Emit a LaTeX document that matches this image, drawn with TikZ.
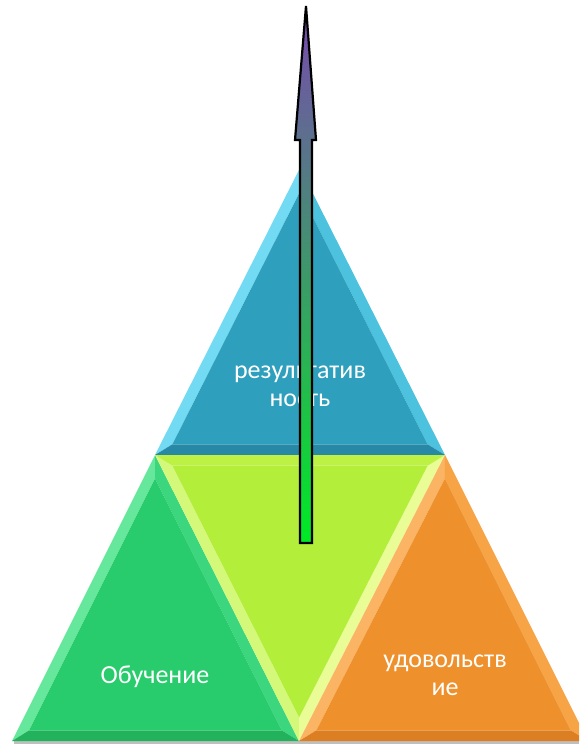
\documentclass[tikz,border=0pt]{standalone}
\usepackage{fontspec}
\setmainfont{Carlito}
\usetikzlibrary{calc}
\definecolor{tealM}{HTML}{2EA0BD}
\definecolor{tealL}{HTML}{72DAF2}
\definecolor{tealR}{HTML}{4CC2DE}
\definecolor{tealB}{HTML}{2889A6}
\definecolor{grnM}{HTML}{28CC6C}
\definecolor{grnL}{HTML}{66E89C}
\definecolor{grnR}{HTML}{3CD67E}
\definecolor{grnB}{HTML}{22B25C}
\definecolor{limM}{HTML}{B3EE3A}
\definecolor{limT}{HTML}{BDF245}
\definecolor{limL}{HTML}{D4F97A}
\definecolor{limR}{HTML}{EAFC95}
\definecolor{orgM}{HTML}{EE902C}
\definecolor{orgL}{HTML}{FAB464}
\definecolor{orgR}{HTML}{F6A446}
\definecolor{orgB}{HTML}{DC7E22}
\definecolor{arrTop}{HTML}{7A48B0}
\definecolor{arrBot}{HTML}{00EA24}
\tikzset{
  lbl/.style={text=white, font=\fontsize{26}{26}\selectfont, inner sep=0pt, anchor=base},
  arrowshape/.style={draw=black, line width=2.2pt, top color=arrTop, bottom color=arrBot, line join=miter},
}
% #1 first vertex, #2 second, #3 third, #4 incenter, colours: #5 main, #6 facet 1-2, #7 facet 1-3, #8 facet 2-3
\newcommand\bevtri[8]{%
  \coordinate (ia) at ($(#4)!0.88!(#1)$);
  \coordinate (ib) at ($(#4)!0.88!(#2)$);
  \coordinate (ic) at ($(#4)!0.88!(#3)$);
  \fill[#6] (#1) -- (#2) -- (ib) -- (ia) -- cycle;
  \fill[#7] (#1) -- (#3) -- (ic) -- (ia) -- cycle;
  \fill[#8] (#2) -- (#3) -- (ic) -- (ib) -- cycle;
  \fill[#5] (ia) -- (ib) -- (ic) -- cycle;
}
\begin{document}
\begin{tikzpicture}[x=1pt,y=-1pt]
\useasboundingbox (0,0) rectangle (579,747);
\clip (0,0) rectangle (579,747);
\fill[white] (0,0) rectangle (579,747);
% vertices
\coordinate (tA) at (300,168);
\coordinate (mL) at (155,455);
\coordinate (mR) at (445,455);
\coordinate (bL) at (12,741);
\coordinate (bM) at (299,741);
\coordinate (bR) at (588,741);
\coordinate (iT) at (300,366);
\coordinate (iG) at (155,652);
\coordinate (iM) at (300,544);
\coordinate (iO) at (444,652);
% shadow under the base
\fill[black!25] (14,741) rectangle (579,744);
% triangles
\bevtri{tA}{mL}{mR}{iT}{tealM}{tealL}{tealR}{tealB}
\bevtri{mL}{bL}{bM}{iG}{grnM}{grnL}{grnR}{grnB}
\bevtri{bM}{mL}{mR}{iM}{limM}{limL}{limR}{limT}
\bevtri{mR}{bM}{bR}{iO}{orgM}{orgL}{orgR}{orgB}
% labels
\node[lbl] (res1) at (300,378) {результатив};
\node[lbl] (res2) at (300,406) {ность};
\node[lbl] (obu) at (155,683) {Обучение};
\node[lbl] (udo1) at (445,667) {удовольств};
\node[lbl] (udo2) at (445,695) {ие};
% arrow
\coordinate (s1) at (300,543);
\coordinate (s2) at (312,543);
\coordinate (s3) at (312,140);
\coordinate (h1) at (316,140);
\coordinate (tip) at (306,6);
\coordinate (h2) at (295,140);
\coordinate (s4) at (300,140);
\path[arrowshape] (s1) -- (s2) -- (s3) -- (h1) -- (tip) -- (h2) -- (s4) -- cycle;
\end{tikzpicture}
\end{document}
